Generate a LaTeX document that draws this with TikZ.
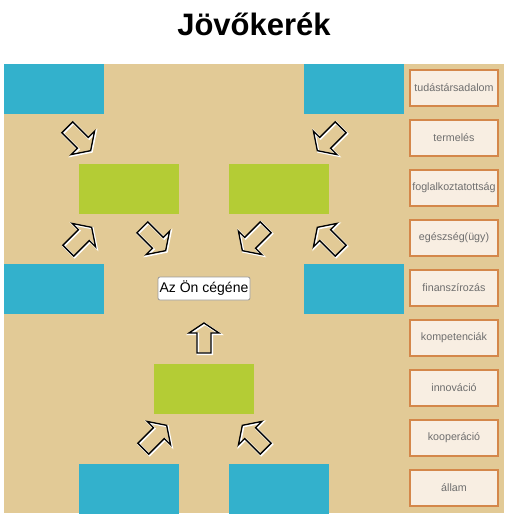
\documentclass[tikz,border=0pt]{standalone}
\usepackage{fontspec}
\setmainfont{Liberation Sans}
\definecolor{tanbg}{HTML}{E2CA96}
\definecolor{bluebx}{HTML}{33B1CC}
\definecolor{greenbx}{HTML}{B4CC35}
\definecolor{sidefill}{HTML}{F8EEE2}
\definecolor{sideborder}{HTML}{D4874A}
\definecolor{sidetext}{HTML}{6E6E6E}
\tikzset{
  bluebox/.style={fill=bluebx, minimum width=100pt, minimum height=50pt, inner sep=0pt},
  greenbox/.style={fill=greenbx, minimum width=100pt, minimum height=50pt, inner sep=0pt},
  sidebox/.style={fill=sidefill, draw=sideborder, line width=2.5pt, minimum width=88pt, minimum height=36pt, inner sep=0pt, text=sidetext, font=\fontsize{10.7}{12}\selectfont},
  labelbox/.style={fill=white, draw=black!40, line width=0.8pt, rounded corners=2pt, minimum width=92pt, minimum height=23pt, inner sep=0pt, font=\fontsize{14}{16}\selectfont},
  barrow/.pic={\path[pic actions] (-15,-7) -- (5,-7) -- (5,-15) -- (15,0) -- (5,15) -- (5,7) -- (-15,7) -- cycle;},
  halo/.style={draw=white, line width=2.4pt, line join=miter, xshift=0.9pt, yshift=-0.9pt},
  outline/.style={draw=black, line width=1.3pt, line join=miter},
}
\newcommand{\blockarr}[4]{%
  \pic[halo, rotate=#3, scale=#4] at (#1,#2) {barrow};
  \pic[outline, rotate=#3, scale=#4] at (#1,#2) {barrow};}
\begin{document}
\begin{tikzpicture}[x=1pt,y=-1pt]
\useasboundingbox (0,0) rectangle (508,516);
\fill[white] (0,0) rectangle (508,516);
\node[font=\fontsize{31}{31}\selectfont\bfseries, anchor=base] (title) at (254,36) {Jövőkerék};
\fill[tanbg] (4,64) rectangle (504,513);
% blue boxes
\node[bluebox] (b1) at (54,89) {};
\node[bluebox] (b2) at (354,89) {};
\node[bluebox] (b3) at (54,289) {};
\node[bluebox] (b4) at (354,289) {};
\node[bluebox] (b5) at (129,488.5) {};
\node[bluebox] (b6) at (279,488.5) {};
% green boxes
\node[greenbox] (g1) at (129,189) {};
\node[greenbox] (g2) at (279,189) {};
\node[greenbox] (g3) at (204,389) {};
% centre label
\node[labelbox] (you) at (204,288.5) {Az Ön cégéne};
% arrows
\blockarr{79}{139}{-45}{1.1}
\blockarr{329}{139}{-135}{1.1}
\blockarr{80}{239}{45}{1.1}
\blockarr{154}{239}{-45}{1.1}
\blockarr{254}{239}{-135}{1.1}
\blockarr{329}{239}{135}{1.1}
\blockarr{204}{338}{90}{1.0}
\blockarr{155}{437}{45}{1.1}
\blockarr{254}{437}{135}{1.1}
% side boxes
\node[sidebox] (s1) at (454,88) {tudástársadalom};
\node[sidebox] (s2) at (454,138) {termelés};
\node[sidebox] (s3) at (454,188) {foglalkoztatottság};
\node[sidebox] (s4) at (454,238) {egészség(ügy)};
\node[sidebox] (s5) at (454,288) {finanszírozás};
\node[sidebox] (s6) at (454,338) {kompetenciák};
\node[sidebox] (s7) at (454,388) {innováció};
\node[sidebox] (s8) at (454,438) {kooperáció};
\node[sidebox] (s9) at (454,488) {állam};
\end{tikzpicture}
\end{document}
